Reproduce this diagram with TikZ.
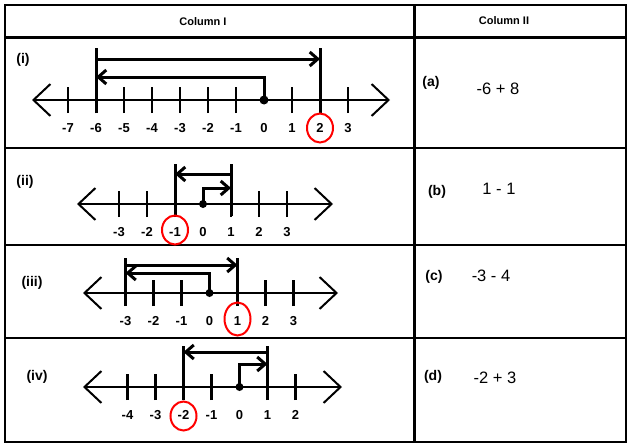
\documentclass[tikz,border=0pt]{standalone}
\usepackage{fontspec}
\setmainfont{Liberation Sans}
\usetikzlibrary{arrows.meta,shapes.geometric}

\begin{document}
\begin{tikzpicture}[x=1pt, y=-1pt]
				\tikzstyle{every node}=[inner sep=1pt, align=center]
				\tikzstyle{frame}=[line width=2.6pt]
				\tikzstyle{axis}=[line width=2pt, {Straight Barb[length=17pt,width=32pt]}-{Straight Barb[length=17pt,width=32pt]}]
				\tikzstyle{tickmark}=[line width=2.2pt]
				\tikzstyle{bar}=[line width=3pt]
				\tikzstyle{jump}=[line width=3pt, -{Straight Barb[length=8pt,width=14pt]}]
				\tikzstyle{num}=[font=\bfseries\fontsize{13}{13}\selectfont]
				\tikzstyle{rowlab}=[font=\bfseries\fontsize{14}{14}\selectfont]
				\tikzstyle{head}=[font=\bfseries\fontsize{11}{11}\selectfont]
				\tikzstyle{expr}=[font=\fontsize{16.5}{16.5}\selectfont]
				\tikzstyle{answer}=[draw=red, line width=2pt, ellipse, minimum width=26pt, minimum height=29pt]
				\useasboundingbox (0,0) rectangle (634,447);
				% table
				\draw[frame] (5,5) rectangle (626,442);
				\draw[frame] (414.5,5) -- (414.5,442);
				\draw[frame] (5,37.5) -- (626,37.5);
				\draw[frame] (5,148) -- (626,148);
				\draw[frame] (5,245) -- (626,245);
				\draw[frame] (5,338) -- (626,338);
				\node[head] (colI) at (203,21.5) {Column I};
				\node[head] (colII) at (504,21) {Column II};
				% number lines
				\foreach \r/\y/\o/\lo/\hi/\a/\b in {i/100/264/-7/3/32/390, ii/204/203/-3/3/77/333, iii/293/209.5/-3/3/83/338, iv/387/239.5/-4/2/83/342}{
					\coordinate (\r L) at (\a,\y);
					\coordinate (\r R) at (\b,\y);
					\draw[axis] (\r L) -- (\r R);
					\foreach \x in {\lo,...,\hi}{
						\coordinate (\r\x) at (\o+28*\x,\y);
						\node[num] (l\r\x) at (\o+28*\x,\y+28) {\x};
						\ifnum\x=0 \else \draw[tickmark] (\r\x) ++(0,13) -- ++(0,-26); \fi
					}
				}
				% (i)
				\coordinate (ihi) at (0,59);
				\coordinate (ilo) at (0,77);
				\draw[bar] (i-6) ++(0,13) -- ++(0,-65);
				\draw[bar] (i2) ++(0,13) -- ++(0,-65);
				\draw[jump] (i-6 |- ihi) -- (i2 |- ihi);
				\draw[jump] (i0) |- (i-6 |- ilo);
				\fill (i0) circle (4.5pt);
				\node[answer] (ai) at (li2) {};
				\node[rowlab] (ri) at (23,60) {(i)};
				% (ii)
				\coordinate (iihi) at (0,174);
				\coordinate (iilo) at (0,188);
				\draw[bar] (ii-1) ++(0,12) -- ++(0,-52);
				\draw[bar] (ii1) ++(0,12) -- ++(0,-52);
				\draw[jump] (ii1 |- iihi) -- (ii-1 |- iihi);
				\draw[jump] (ii0) |- (ii1 |- iilo);
				\fill (ii0) circle (4pt);
				\node[answer] (aii) at ([yshift=2pt]lii-1) {};
				\node[rowlab] (rii) at (25,182) {(ii)};
				% (iii)
				\coordinate (iiihi) at (0,265);
				\coordinate (iiilo) at (0,273);
				\draw[bar] (iii-3) ++(0,12) -- ++(0,-47);
				\draw[bar] (iii1) ++(0,12) -- ++(0,-47);
				\draw[jump] (iii-3 |- iiihi) -- (iii1 |- iiihi);
				\draw[jump] (iii0) |- (iii-3 |- iiilo);
				\fill (iii0) circle (4pt);
				\node[answer, minimum height=33pt] (aiii) at ([yshift=2pt]liii1) {};
				\node[rowlab] (riii) at (32,283) {(iii)};
				% (iv)
				\coordinate (ivhi) at (0,352);
				\coordinate (ivlo) at (0,364);
				\draw[bar] (iv-2) ++(0,11) -- ++(0,-52);
				\draw[bar] (iv1) ++(0,11) -- ++(0,-52);
				\draw[jump] (iv1 |- ivhi) -- (iv-2 |- ivhi);
				\draw[jump] (iv0) |- (iv1 |- ivlo);
				\fill (iv0) circle (4pt);
				\node[answer] (aiv) at ([yshift=-1pt]liv-2) {};
				\node[rowlab] (riv) at (37,377) {(iv)};
				% column II
				\node[rowlab] (ca) at (431,83) {(a)};
				\node[expr] (ea) at (498,89) {-6 + 8};
				\node[rowlab] (cb) at (437,192) {(b)};
				\node[expr] (eb) at (499,189) {1 - 1};
				\node[rowlab] (cc) at (434,277) {(c)};
				\node[expr] (ec) at (491,276) {-3 - 4};
				\node[rowlab] (cd) at (433,377) {(d)};
				\node[expr] (ed) at (495,378) {-2 + 3};
		\end{tikzpicture}
\end{document}
